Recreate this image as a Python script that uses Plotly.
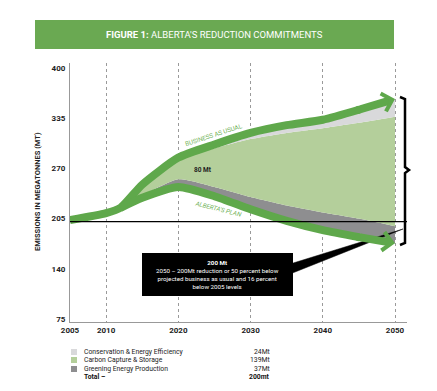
import plotly.graph_objects as go

# ---------------- data ----------------
years = [2005, 2010, 2012, 2015, 2020, 2025, 2030, 2035, 2040, 2045, 2050]
bau = [203, 212, 219, 249, 284, 301, 316, 326, 333, 346, 360]          # business as usual

band_years = [2012, 2015, 2020, 2025, 2030, 2035, 2040, 2045, 2050]
plan = [219, 232, 246, 234, 217, 202, 190, 181, 173]                     # Alberta's plan
greening_top = [219, 235, 256, 246, 233, 222, 213, 205, 195]
ccs_top = [219, 247, 281, 296, 308, 316, 322, 329, 337]
conservation_top = bau[2:]

level_2005 = 201
x_ticks = [2005, 2010, 2020, 2030, 2040, 2050]
y_ticks = [75, 140, 205, 270, 335, 400]

legend_names = ["Conservation & Energy Efficiency", "Carbon Capture & Storage",
                "Greening Energy Production"]
legend_values = ["24Mt", "139Mt", "37Mt"]
total_label, total_value = "Total –", "200mt"

# ---------------- style ----------------
GREEN = "#5fa84b"
BANNER = "#6aa952"
LIGHT_GREEN = "#b4cf9b"
LIGHT_GREY = "#d9d9db"
DARK_GREY = "#8e8e90"
FONT = "Roboto, sans-serif"

OFF = 8                      # default page margin of the html body
W, H = 437 - 2 * OFF, 391 - 2 * OFF
PL, PT, PR, PB = 70, 63, 407, 322   # plot area in window pixels
L, T = PL - OFF, PT - OFF
R, B = W - (PR - OFF), H - (PB - OFF)
PW, PH = PR - PL, PB - PT


def px(x):
    return (x - PL) / PW


def py(y):
    return (PB - y) / PH


def note(x, y, text, size, color="#222", xanchor="center", **kw):
    return dict(x=px(x), y=py(y), xref="paper", yref="paper", showarrow=False, text=text,
                xanchor=xanchor, yanchor="middle", font=dict(family=FONT, size=size, color=color), **kw)


fig = go.Figure()

spl = dict(width=0, shape="spline", smoothing=0.6)
fig.add_trace(go.Scatter(x=band_years, y=plan, mode="lines", line=spl, hoverinfo="skip", showlegend=False))
fig.add_trace(go.Scatter(x=band_years, y=greening_top, mode="lines", fill="tonexty", fillcolor=DARK_GREY,
                         line=spl, showlegend=False))
fig.add_trace(go.Scatter(x=band_years, y=ccs_top, mode="lines", fill="tonexty", fillcolor=LIGHT_GREEN,
                         line=spl, showlegend=False))
fig.add_trace(go.Scatter(x=band_years, y=conservation_top, mode="lines", fill="tonexty", fillcolor=LIGHT_GREY,
                         line=spl, showlegend=False))

for xs, ys in ((years, bau), (band_years, plan)):
    fig.add_trace(go.Scatter(x=xs[:-1], y=ys[:-1], mode="lines",
                             line=dict(color=GREEN, width=8, shape="spline", smoothing=0.6), showlegend=False))
    # round joint between curve and arrow shaft
    fig.add_trace(go.Scatter(x=xs[-2:-1], y=ys[-2:-1], mode="markers",
                             marker=dict(color=GREEN, size=8, line=dict(width=0)), showlegend=False))

annotations = []
for xs, ys in ((years, bau), (band_years, plan)):
    annotations.append(dict(x=xs[-1], y=ys[-1], ax=xs[-2], ay=ys[-2], xref="x", yref="y",
                            axref="x", ayref="y", showarrow=True, arrowhead=4, arrowsize=0.45,
                            arrowwidth=8, arrowcolor=GREEN, text=""))

shapes = []
shapes.append(dict(type="line", xref="paper", yref="y", x0=0, x1=1, y0=level_2005, y1=level_2005,
                   line=dict(color="black", width=1.3)))
# title banner
shapes.append(dict(type="rect", xref="paper", yref="paper", x0=px(35), x1=px(394), y0=py(49), y1=py(20),
                   fillcolor=BANNER, line=dict(width=0), layer="above"))
annotations.append(note(214.5, 34.5, "<b>FIGURE 1:</b> ALBERTA'S REDUCTION COMMITMENTS", 9.5, "white"))
# brace
brace = (f"M {px(400)} {py(97)} L {px(405)} {py(99)} L {px(405)} {py(167)} L {px(409)} {py(170)} "
         f"L {px(405)} {py(173)} L {px(405)} {py(243)} L {px(400)} {py(245)}")
shapes.append(dict(type="path", xref="paper", yref="paper", path=brace, line=dict(color="black", width=2.5)))
# callout wedge + box
wedge = f"M {px(290)} {py(264)} L {px(290)} {py(274)} L {px(403)} {py(229)} Z"
shapes.append(dict(type="path", xref="paper", yref="paper", path=wedge, fillcolor="black",
                   line=dict(color="black", width=0.5)))
shapes.append(dict(type="rect", xref="paper", yref="paper", x0=px(142), x1=px(293), y0=py(296), y1=py(253),
                   fillcolor="black", line=dict(width=0)))
annotations.append(note(217.5, 274.5,
                        "<b>200 Mt</b><br>2050 – 200Mt reduction or 50 percent below<br>"
                        "projected business as usual and 16 percent<br>below 2005 levels",
                        6.2, "white", align="center"))

# line labels
annotations.append(note(214, 135, "BUSINESS AS USUAL", 6.3, "#6fb257", textangle=-18))
annotations.append(note(218, 209, "<i>ALBERTA'S PLAN</i>", 6.3, "#6fb257", textangle=14))
annotations.append(note(203, 170, "<b>80 Mt</b>", 6.5, "#222"))

# y-axis title
annotations.append(note(37, 192, "<b>EMISSIONS IN MEGATONNES (MT)</b>", 7.5, "#222", textangle=-90))

# legend
row_y = [352, 360, 369, 377]
colors = [LIGHT_GREY, LIGHT_GREEN, DARK_GREY]
for i, (name, val) in enumerate(zip(legend_names, legend_values)):
    yc = row_y[i]
    shapes.append(dict(type="rect", xref="paper", yref="paper", x0=px(71), x1=px(77),
                       y0=py(yc + 3), y1=py(yc - 3), fillcolor=colors[i], line=dict(width=0)))
    annotations.append(note(82, yc, name, 6.8, xanchor="left"))
    annotations.append(note(272, yc, val, 6.8, xanchor="right"))
annotations.append(note(82, row_y[3], f"<b>{total_label}</b>", 6.8, "#111", xanchor="left"))
annotations.append(note(272, row_y[3], f"<b>{total_value}</b>", 6.8, "#111", xanchor="right"))

fig.update_layout(
    width=W, height=H, margin=dict(l=L, r=R, t=T, b=B, autoexpand=False),
    paper_bgcolor="white", plot_bgcolor="white",
    showlegend=False, shapes=shapes, annotations=annotations,
    xaxis=dict(range=[2005, 2051.66], tickvals=x_ticks, showgrid=True, gridcolor="#9a9a9a",
               griddash="dot", gridwidth=1, showline=True, linecolor="#999", linewidth=1,
               zeroline=False, ticks="", tickfont=dict(family=FONT, size=8, color="#222", weight="bold")),
    yaxis=dict(range=[71.1, 406.5], tickvals=y_ticks, showgrid=False, showline=True, linecolor="#999",
               linewidth=1, zeroline=False, ticks="", ticklabelstandoff=2,
               tickfont=dict(family=FONT, size=8, color="#222", weight="bold")),
)

fig.write_html("out.html")
